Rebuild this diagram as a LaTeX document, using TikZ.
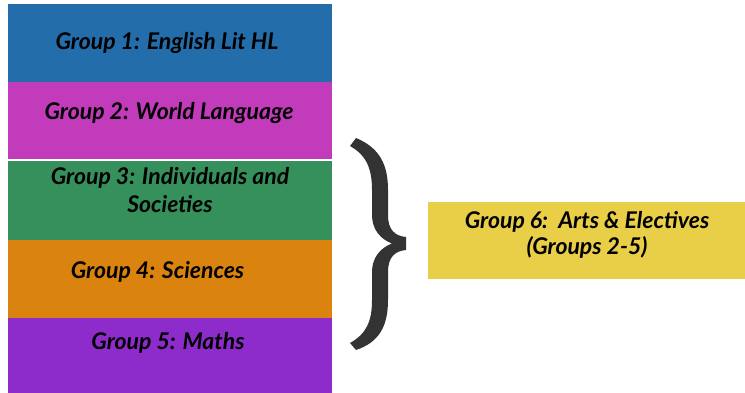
\documentclass[tikz,border=0pt]{standalone}
\usepackage{fontspec}
\setmainfont{Lato}
\definecolor{cblue}{HTML}{236DAA}
\definecolor{cmag}{HTML}{C13BBB}
\definecolor{cgreen}{HTML}{36905C}
\definecolor{corange}{HTML}{DA840F}
\definecolor{cpurple}{HTML}{8E2BCB}
\definecolor{cyellow}{HTML}{E9CE48}
\definecolor{cbrace}{HTML}{333333}
\begin{document}
\begin{tikzpicture}[x=1pt,y=-1pt,
  lbl/.style={font=\fontsize{23}{28}\selectfont\bfseries\itshape, text=black, align=center, inner sep=0pt}]
\useasboundingbox (0,0) rectangle (745,393);
\fill[white] (0,0) rectangle (745,393);
\fill[cblue] (8,4) rectangle (332,82);
\fill[cmag] (8,82) rectangle (332,159);
\fill[cgreen] (8,161.5) rectangle (332,240);
\fill[corange] (8,240) rectangle (332,318);
\fill[cpurple] (8,318) rectangle (332,393);
\fill[cyellow] (428,202) rectangle (745,279);
\node[lbl] (g1) at (167,43) {Group 1: English Lit HL};
\node[lbl] (g2) at (169,113) {Group 2: World Language};
\node[lbl] (g3) at (170,190) {Group 3: Individuals and\\Societies};
\node[lbl] (g4) at (157.5,272) {Group 4: Sciences};
\node[lbl] (g5) at (168,343) {Group 5: Maths};
\node[lbl, font=\fontsize{23}{26}\selectfont\bfseries\itshape] (g6) at (587,235) {Group 6:\ \ Arts \& Electives\\(Groups 2-5)};
\fill[cbrace] (356,138) .. controls (380,148) and (388,165) .. (388,190) -- (388,215)
  .. controls (388,230) and (395,236) .. (406,237) -- (406,250)
  .. controls (395,251) and (388,257) .. (388,272) -- (388,300)
  .. controls (388,325) and (380,342) .. (356,350) -- (350,343)
  .. controls (366,334) and (372,322) .. (372,300) -- (372,272)
  .. controls (372,258) and (380,248) .. (392,243.5)
  .. controls (380,239) and (372,229) .. (372,215) -- (372,190)
  .. controls (372,168) and (366,155) .. (350,146) -- cycle;
\end{tikzpicture}
\end{document}
